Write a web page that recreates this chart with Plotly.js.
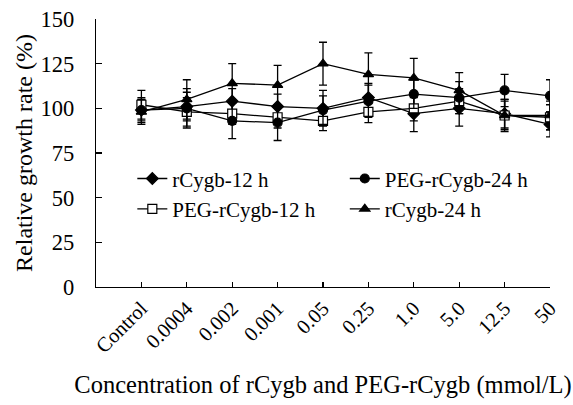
<!DOCTYPE html>
<html>
<head>
<meta charset="utf-8">
<script src="https://cdn.plot.ly/plotly-3.0.1.min.js"></script>
<style>html,body{margin:0;padding:0;background:#fff;}#chart{width:573px;height:405px;}</style>
</head>
<body>
<div id="chart"></div>
<script>
var categories = ["Control", "0.0004", "0.002", "0.001", "0.05", "0.25", "1.0", "5.0", "12.5", "50"];

var rCygb12 = [99, 101, 104, 101, 100, 106, 97, 100, 97, 91];
var rCygb12Err = [7, 8, 7, 7, 10, 8, 10, 10, 8, 7];

var peg12 = [102, 98, 97, 95, 93, 98, 100, 104, 96, 95];
var peg12Err = [8, 8, 6, 6, 5.5, 6, 7, 7, 9, 7];

var peg24 = [99, 100, 93, 92, 99, 104, 108, 106, 110, 107];
var peg24Err = [6, 11, 10, 10, 8, 9, 8, 9, 9, 9];

var rCygb24 = [98, 105, 114, 113, 125, 119, 117, 110, 96, 96];
var rCygb24Err = [7, 11, 11, 11, 12, 12, 11, 10, 8, 8];

var seriesNames = ["rCygb-12 h", "PEG-rCygb-12 h", "PEG-rCygb-24 h", "rCygb-24 h"];

function mk(name, y, err, symbol, fill, legend) {
  return {
    type: "scatter", mode: "lines+markers", name: name,
    x: categories, y: y, legend: legend,
    line: {color: "#000", width: 1.3},
    marker: {symbol: symbol, size: 9, color: fill, line: {color: "#000", width: 1.2}},
    error_y: {type: "data", array: err, visible: true, color: "#000", thickness: 1.3, width: 4}
  };
}

var traces = [
  mk(seriesNames[0], rCygb12, rCygb12Err, "diamond", "#000", "legend"),
  mk(seriesNames[1], peg12, peg12Err, "square", "#fff", "legend"),
  mk(seriesNames[2], peg24, peg24Err, "circle", "#000", "legend2"),
  mk(seriesNames[3], rCygb24, rCygb24Err, "triangle-up", "#000", "legend2")
];

var FAM = "Liberation Serif";
var font = {family: FAM, color: "#000", size: 21};

var layout = {
  width: 573, height: 405,
  margin: {l: 96, r: 23, t: 19, b: 118},
  paper_bgcolor: "#fff", plot_bgcolor: "#fff",
  font: font,
  showlegend: true,
  xaxis: {
    type: "category", range: [-1, 9],
    showline: true, linecolor: "#000", linewidth: 1.3,
    ticks: "inside", ticklen: 5, tickcolor: "#000", tickwidth: 1.2,
    tickangle: -45, showgrid: false, zeroline: false,
    tickfont: {family: FAM, size: 20.5, color: "#000"},
    title: {text: "Concentration of rCygb and PEG-rCygb (mmol/L)", font: {family: FAM, size: 24.5, color: "#000"}, standoff: 19}
  },
  yaxis: {
    range: [0, 150], dtick: 25,
    showline: true, linecolor: "#000", linewidth: 1.3,
    ticks: "inside", ticklen: 6, tickcolor: "#000", tickwidth: 1.2,
    ticklabelstandoff: 16,
    showgrid: false, zeroline: false,
    tickfont: {family: FAM, size: 22.5, color: "#000"},
    title: {text: "Relative growth rate (%)", font: {family: FAM, size: 24, color: "#000"}, standoff: 1}
  },
  legend: {x: 0.08, y: 0.48, xanchor: "left", yanchor: "top", bgcolor: "rgba(0,0,0,0)",
    font: {family: FAM, size: 21, color: "#000"}, tracegroupgap: 0, itemwidth: 30},
  legend2: {x: 0.548, y: 0.48, xanchor: "left", yanchor: "top", bgcolor: "rgba(0,0,0,0)",
    font: {family: FAM, size: 21, color: "#000"}, tracegroupgap: 0, itemwidth: 30}
};

Plotly.newPlot("chart", traces, layout, {displayModeBar: false, staticPlot: true});
</script>
</body>
</html>
